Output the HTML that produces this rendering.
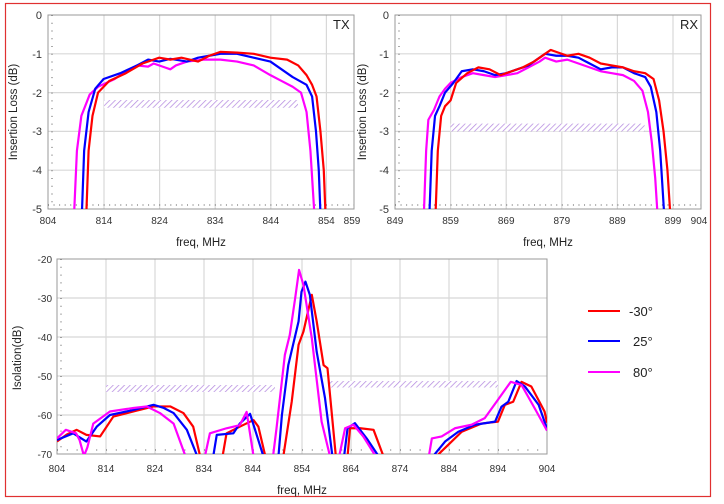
<!DOCTYPE html>
<html><head><meta charset="utf-8"><style>
html,body{margin:0;padding:0;background:#fff}
svg{display:block;font-family:"Liberation Sans",Arial,sans-serif}
</style></head><body>
<svg width="724" height="504" viewBox="0 0 724 504">
<rect x="5.5" y="3.5" width="705" height="493" fill="#fff" stroke="#e03030" stroke-width="1.2"/>
<defs>
<pattern id="h" width="4" height="4" patternUnits="userSpaceOnUse" patternTransform="rotate(45)">
<rect width="4" height="4" fill="#fff"/><line x1="0" y1="0" x2="0" y2="4" stroke="#b58be0" stroke-width="1.5"/></pattern>
<clipPath id="c1"><rect x="48" y="15" width="306" height="194"/></clipPath>
<clipPath id="c2"><rect x="395" y="15" width="306" height="194"/></clipPath>
<clipPath id="c3"><rect x="57" y="259" width="490" height="195"/></clipPath>
</defs>
<g stroke="#d8d8d8" stroke-width="1.2" fill="none">
<path d="M104 15V209M159.6 15V209M215.2 15V209M270.8 15V209M326.4 15V209M48 53.8H354M48 92.6H354M48 131.4H354M48 170.2H354"/>
<path d="M450.6 15V209M506.2 15V209M561.8 15V209M617.4 15V209M673 15V209M395 53.8H701M395 92.6H701M395 131.4H701M395 170.2H701"/>
<path d="M106 259V454M155 259V454M204 259V454M253 259V454M302 259V454M351 259V454M400 259V454M449 259V454M498 259V454M57 298H547M57 337H547M57 376H547M57 415H547"/>
</g>
<g stroke="#999" fill="none" stroke-width="1">
<rect x="48" y="15" width="306" height="194"/>
<rect x="395" y="15" width="306" height="194"/>
<rect x="57" y="259" width="490" height="195"/>
</g>
<g stroke="#555" stroke-width="1">
<line x1="48" y1="205" x2="354" y2="205" stroke-dasharray="1 4.56"/>
<line x1="395" y1="205" x2="701" y2="205" stroke-dasharray="1 4.56"/>
<line x1="57" y1="450" x2="547" y2="450" stroke-dasharray="1 8.8"/>
<line x1="52" y1="15" x2="52" y2="209" stroke-dasharray="1 6.76"/>
<line x1="399" y1="15" x2="399" y2="209" stroke-dasharray="1 6.76"/>
<line x1="61" y1="259" x2="61" y2="454" stroke-dasharray="1 6.8"/>
</g>
<rect x="104" y="100" width="194" height="7.8" fill="url(#h)"/>
<rect x="450.6" y="123.6" width="194" height="7.8" fill="url(#h)"/>
<rect x="106" y="385" width="169" height="7" fill="url(#h)"/>
<rect x="329" y="381" width="169" height="6.5" fill="url(#h)"/>
<g clip-path="url(#c1)"><g transform="translate(48,15) scale(5.56,38.8)" fill="none" stroke-width="2.2" stroke-linejoin="round">
<polyline vector-effect="non-scaling-stroke" stroke="#ff00ff" points="4.7,5.1 5.2,3.5 6,2.6 7.5,2.05 9,1.85 12,1.65 14,1.45 16,1.3 18,1.33 19,1.25 21,1.35 22,1.4 23,1.3 25,1.2 28,1.15 31,1.15 34,1.2 37,1.3 40,1.55 42,1.7 44,1.85 45.5,2.0 46.5,2.5 47.2,3.5 47.9,5.1"/>
<polyline vector-effect="non-scaling-stroke" stroke="#0000ff" points="6.1,5.1 6.5,3.5 7.3,2.5 8.5,1.9 10,1.65 13,1.5 16,1.3 18,1.15 20,1.2 22,1.13 25,1.2 27,1.1 29,1.05 31,1.0 34,1.0 37,1.1 40,1.2 42,1.4 44,1.6 46.5,1.8 47.5,2.1 48.2,3 48.7,4 49,5.1"/>
<polyline vector-effect="non-scaling-stroke" stroke="#ff0000" points="6.9,5.1 7.3,3.5 8,2.6 9,2 11,1.7 14,1.5 17,1.25 20,1.1 22,1.15 24,1.1 27,1.2 29,1.05 31,0.95 34,0.97 37,1.0 40,1.1 43,1.15 45,1.3 46.5,1.55 47.5,1.8 48.3,2.1 49,3 49.6,4 49.9,5.1"/>
</g></g>
<g clip-path="url(#c2)"><g transform="translate(395,15) scale(5.56,38.8)" fill="none" stroke-width="2.2" stroke-linejoin="round">
<polyline vector-effect="non-scaling-stroke" stroke="#ff00ff" points="5.2,5.1 5.6,3.5 6,2.7 7,2.45 8,2.1 9,1.9 10,1.75 12,1.6 14,1.5 16,1.55 18,1.6 20,1.55 22,1.5 24,1.35 26,1.2 27,1.1 29,1.2 31,1.15 33,1.25 35,1.35 37,1.45 39,1.5 41,1.55 43,1.7 44.5,1.95 45.5,2.5 46.2,3.3 46.8,4.2 47.2,5.1"/>
<polyline vector-effect="non-scaling-stroke" stroke="#0000ff" points="6.2,5.1 6.6,3.5 7.2,2.6 8,2.35 9,2.0 10.5,1.75 12,1.45 14,1.4 16,1.45 18,1.55 20,1.5 22,1.4 24,1.3 26,1.1 27,1.0 29,1.05 31,1.05 33,1.1 35,1.25 37,1.4 39,1.35 41,1.35 43,1.5 45,1.6 46,1.85 47,2.5 47.7,3.5 48.4,5.1"/>
<polyline vector-effect="non-scaling-stroke" stroke="#ff0000" points="7.3,5.1 7.7,3.5 8.3,2.6 9,2.35 10,2.2 11,1.75 13,1.5 15,1.35 17,1.4 19,1.55 21,1.45 23,1.35 25,1.2 27,1.0 28,0.9 29,0.95 31,1.05 33,1.0 35,1.1 37,1.25 39,1.3 41,1.35 43,1.45 45,1.5 46.5,1.65 47.5,2.2 48.3,3 49,4 49.5,5.1"/>
</g></g>
<g clip-path="url(#c3)"><g transform="translate(57,259) scale(4.9,3.9)" fill="none" stroke-width="2.2" stroke-linejoin="round">
<g stroke="#ff0000">
<polyline vector-effect="non-scaling-stroke" points="0,46.8 2,45 4,43.8 6,45.1 8.8,45.5 11.5,40.4 15.6,39.1 19.7,37.8 23.1,37.8 25.8,39.5 27.8,43 29.2,50.5"/>
<polyline vector-effect="non-scaling-stroke" points="33.8,50.5 34.6,44.7 37.3,43 40.1,41.3 41.1,43 42.5,50.5"/>
<polyline vector-effect="non-scaling-stroke" points="46.2,50.5 47.9,36.6 49.3,22 50.3,18.6 52,9.2 53,16 54.4,27.2 55.2,28 56.9,50.5"/>
<polyline vector-effect="non-scaling-stroke" points="59.3,50.5 59.8,43.4 61.9,43.4 64.6,43.8 66.6,50.5"/>
<polyline vector-effect="non-scaling-stroke" points="77.5,50.5 79.8,47.7 82.6,44.3 86.6,42.2 90,41.7 91.4,37.4 93.1,36.6 94.8,31.5 96.8,32.7 99.5,39.1 100,42"/>
</g>
<g stroke="#0000ff">
<polyline vector-effect="non-scaling-stroke" points="0,46.4 3.3,44.7 6,46.8 8.1,43 10.8,40 15.6,38.7 19.7,37.4 21.8,38.2 23.8,39.5 26.5,43.8 28.6,50.5"/>
<polyline vector-effect="non-scaling-stroke" points="31.9,50.5 32.6,45.1 36,44.7 37.3,42.2 39.4,39.7 42.1,50.5"/>
<polyline vector-effect="non-scaling-stroke" points="45.2,50.5 45.9,40 47.2,27.2 49.3,16 49.9,8.4 50.7,5.8 51.6,9.2 53,23.8 54.7,35.7 56.2,50.5"/>
<polyline vector-effect="non-scaling-stroke" points="58.6,50.5 59.3,43.4 60.8,42.1 63.2,46 65.6,50.5"/>
<polyline vector-effect="non-scaling-stroke" points="76.8,50.5 79.2,46.8 81.9,44.3 85.3,42.5 89.4,41.7 90.7,37.9 92.1,36.6 93.8,31.3 95.5,32.7 98.3,37.4 100,43.5"/>
</g>
<g stroke="#ff00ff">
<polyline vector-effect="non-scaling-stroke" points="0,46 1.8,43.8 3.9,44.7 4.6,46.4 5.5,50.5 6.2,48.3 7.4,42.2 10.8,39.1 15.6,38.2 18.3,37.8 21,39.5 23.8,42.2 26.2,50.5"/>
<polyline vector-effect="non-scaling-stroke" points="30.2,50.5 31.2,44.7 34.6,43.4 37.3,42.6 38.7,39.2 40.1,50.5"/>
<polyline vector-effect="non-scaling-stroke" points="44.1,50.5 44.8,43.4 46.5,24.6 47.5,19.5 48.6,10.1 49.4,2.8 50.3,6.7 52,20.3 54,41.7 55.7,50.5"/>
<polyline vector-effect="non-scaling-stroke" points="57.6,50.5 58.8,43.4 60.5,42.5 62.5,45.5 65,50.5"/>
<polyline vector-effect="non-scaling-stroke" points="75.9,50.5 76.5,46 78.5,45.5 81.2,43.4 84.6,42.5 87.3,40.8 89.7,36.6 92.6,31.5 94.8,32.3 97.5,38.3 100,44"/>
</g>
</g></g>
<g font-size="11" fill="#333" text-anchor="end">
<text x="42" y="19">0</text><text x="42" y="58">-1</text><text x="42" y="97">-2</text><text x="42" y="135">-3</text><text x="42" y="174">-4</text><text x="42" y="213">-5</text>
<text x="389" y="19">0</text><text x="389" y="58">-1</text><text x="389" y="97">-2</text><text x="389" y="135">-3</text><text x="389" y="174">-4</text><text x="389" y="213">-5</text>
</g>
<g font-size="10" fill="#333" text-anchor="middle">
<text x="48" y="224">804</text><text x="104" y="224">814</text><text x="159.6" y="224">824</text><text x="215.2" y="224">834</text><text x="270.8" y="224">844</text><text x="326.4" y="224">854</text><text x="352" y="224">859</text>
<text x="395" y="224">849</text><text x="450.6" y="224">859</text><text x="506.2" y="224">869</text><text x="561.8" y="224">879</text><text x="617.4" y="224">889</text><text x="673" y="224">899</text><text x="699" y="224">904</text>
</g>
<g font-size="11.5" fill="#222" text-anchor="middle">
<text x="201" y="246">freq, MHz</text>
<text x="548" y="246">freq, MHz</text>
<text x="302" y="494">freq, MHz</text>
<text transform="translate(17,112) rotate(-90)">Insertion Loss (dB)</text>
<text transform="translate(366,112) rotate(-90)">Insertion Loss (dB)</text>
<text transform="translate(21,358) rotate(-90)">Isolation(dB)</text>
</g>
<text x="333" y="29" font-size="13" fill="#222">TX</text>
<text x="680" y="29" font-size="13" fill="#222">RX</text>
<g font-size="10" fill="#333" text-anchor="end">
<text x="52" y="263">-20</text><text x="52" y="302">-30</text><text x="52" y="341">-40</text><text x="52" y="380">-50</text><text x="52" y="419">-60</text><text x="52" y="458">-70</text>
</g>
<g font-size="10" fill="#333" text-anchor="middle">
<text x="57" y="472">804</text><text x="106" y="472">814</text><text x="155" y="472">824</text><text x="204" y="472">834</text><text x="253" y="472">844</text><text x="302" y="472">854</text><text x="351" y="472">864</text><text x="400" y="472">874</text><text x="449" y="472">884</text><text x="498" y="472">894</text><text x="547" y="472">904</text>
</g>
<line x1="588" y1="311" x2="620" y2="311" stroke="#ff0000" stroke-width="2"/>
<line x1="588" y1="341" x2="620" y2="341" stroke="#0000ff" stroke-width="2"/>
<line x1="588" y1="372" x2="620" y2="372" stroke="#ff00ff" stroke-width="2"/>
<g font-size="13" fill="#222"><text x="629" y="316">-30°</text><text x="633" y="346">25°</text><text x="633" y="377">80°</text></g>
</svg>
</body></html>
